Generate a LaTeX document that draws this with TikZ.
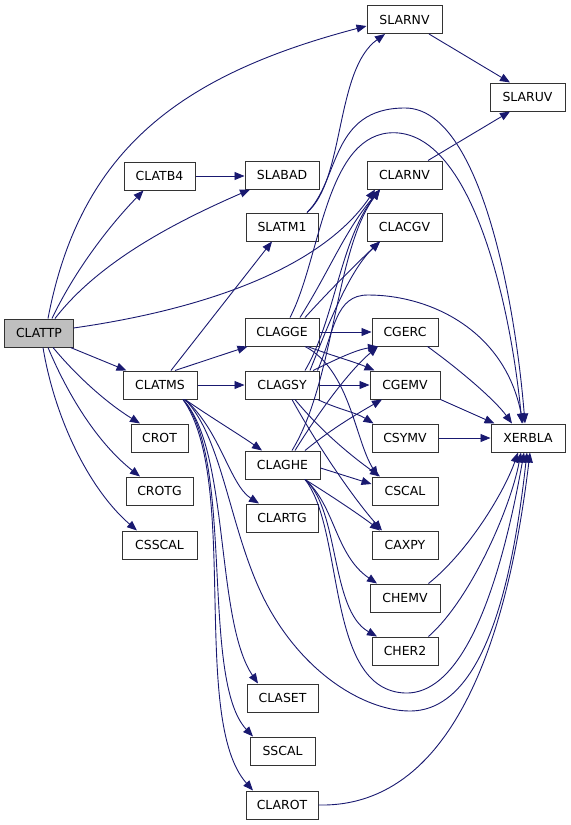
\documentclass[tikz,border=0pt]{standalone}
\usepackage{fontspec}
\setmainfont{DejaVu Sans}
\usetikzlibrary{arrows.meta}
\definecolor{edgecol}{RGB}{25,25,112}
\definecolor{rootfill}{RGB}{191,191,191}
\begin{document}
\begin{tikzpicture}[x=1bp,y=-1bp,
  box/.style={draw=black!80, line width=1bp, minimum height=28bp, inner sep=0pt, fill=white,
    font=\fontsize{12.5}{14}\selectfont},
  call/.style={draw=edgecol, line width=0.9bp, -{Triangle[length=10bp,width=8bp]}, fill=none}]
\useasboundingbox (0,0) rectangle (571,825);
\node[box, minimum width=68bp, fill=rootfill] (clattp) at (39,333) {CLATTP};
\node[box, minimum width=71bp] (clatb4) at (159.5,176) {CLATB4};
\node[box, minimum width=74bp] (slabad) at (282,175) {SLABAD};
\node[box, minimum width=72bp] (slatm1) at (282,227) {SLATM1};
\node[box, minimum width=75bp] (slarnv) at (404.5,19.5) {SLARNV};
\node[box, minimum width=75bp] (slaruv) at (527.5,97) {SLARUV};
\node[box, minimum width=75bp] (clarnv) at (404.5,175) {CLARNV};
\node[box, minimum width=75bp] (clacgv) at (404.5,227) {CLACGV};
\node[box, minimum width=74bp] (clagge) at (282,332) {CLAGGE};
\node[box, minimum width=74bp] (clatms) at (160,385) {CLATMS};
\node[box, minimum width=74bp] (clagsy) at (282,385) {CLAGSY};
\node[box, minimum width=66bp] (cgerc) at (405,332) {CGERC};
\node[box, minimum width=70bp] (cgemv) at (405,385) {CGEMV};
\node[box, minimum width=66bp] (csymv) at (405,438) {CSYMV};
\node[box, minimum width=74bp] (xerbla) at (528,438) {XERBLA};
\node[box, minimum width=57bp] (crot) at (159.5,438) {CROT};
\node[box, minimum width=75bp] (claghe) at (282.5,465) {CLAGHE};
\node[box, minimum width=66bp] (cscal) at (405,491) {CSCAL};
\node[box, minimum width=67bp] (crotg) at (159.5,491) {CROTG};
\node[box, minimum width=72bp] (clartg) at (282,518) {CLARTG};
\node[box, minimum width=66bp] (caxpy) at (405,545) {CAXPY};
\node[box, minimum width=75bp] (csscal) at (159.5,545) {CSSCAL};
\node[box, minimum width=70bp] (chemv) at (405,598) {CHEMV};
\node[box, minimum width=66bp] (cher2) at (405,651) {CHER2};
\node[box, minimum width=71bp] (claset) at (282.5,698) {CLASET};
\node[box, minimum width=65bp] (sscal) at (282.5,751) {SSCAL};
\node[box, minimum width=72bp] (clarot) at (282,805) {CLAROT};

% CLATTP calls
\draw[call] ([xshift=9bp]clattp.north) .. controls (80,150) and (180,75) .. ([yshift=-6.5bp]slarnv.west);
\draw[call] ([xshift=13bp]clattp.north) .. controls (75,270) and (110,225) .. ([xshift=-16bp]clatb4.south);
\draw[call] ([xshift=16bp]clattp.north) .. controls (100,260) and (180,220) .. ([xshift=-32bp]slabad.south);
\draw[call] ([yshift=5bp]clattp.east) .. controls (200,310) and (320,270) .. ([xshift=-29.5bp]clarnv.south);
\draw[call] ([xshift=-3bp]clattp.south east) -- ([xshift=4bp]clatms.north west);
\draw[call] ([xshift=14bp]clattp.south) .. controls (80,380) and (110,405) .. ([xshift=-19.5bp]crot.north);
\draw[call] ([xshift=9bp]clattp.south) .. controls (70,400) and (100,445) .. ([xshift=-19.5bp]crotg.north);
\draw[call] ([xshift=4bp]clattp.south) .. controls (55,420) and (90,490) .. ([xshift=-22.5bp]csscal.north);
\draw[call] (clatb4.east) -- (clatb4.east -| slabad.west);

% SLARNV / CLARNV
\draw[call] ([xshift=24.5bp]slarnv.south) -- ([xshift=-17.5bp]slaruv.north);
\draw[call] ([xshift=23.5bp]clarnv.north) -- ([xshift=-17.5bp]slaruv.south);

% SLATM1
\draw[call] ([xshift=25bp]slatm1.north) .. controls (345,180) and (335,70) .. ([xshift=-19.5bp]slarnv.south);
\draw[call] ([xshift=25bp]slatm1.north) .. controls (340,180) and (330,108) .. (405,108)
  .. controls (480,108) and (515,300) .. ([xshift=-3bp]xerbla.north);

% CLAGGE
\draw[call] ([xshift=8bp]clagge.north) .. controls (320,260) and (325,140) .. (388,133)
  .. controls (470,125) and (510,300) .. ([xshift=-6bp]xerbla.north);
\draw[call] ([xshift=18bp]clagge.north) .. controls (330,270) and (345,230) .. ([xshift=-24.5bp]clarnv.south);
\draw[call] ([xshift=23bp]clagge.north) .. controls (330,290) and (355,265) .. ([xshift=-24.5bp]clacgv.south);
\draw[call] (clagge.east) -- (clagge.east -| cgerc.west);
\draw[call] ([xshift=-12bp]clagge.south east) .. controls (330,355) and (355,362) .. ([xshift=5bp]cgemv.north west);
\draw[call] ([xshift=23bp]clagge.south) .. controls (350,370) and (355,440) .. ([xshift=-27bp]cscal.north);

% CLAGSY
\draw[call] ([xshift=23bp]clagsy.north) .. controls (335,320) and (340,240) .. ([xshift=-24.5bp]clarnv.south);
\draw[call] ([xshift=28bp]clagsy.north) .. controls (330,320) and (350,270) .. ([xshift=-24.5bp]clacgv.south);
\draw[call] ([xshift=31bp]clagsy.north) .. controls (335,360) and (355,350) .. ([xshift=-27bp]cgerc.south);
\draw[call] (clagsy.east) -- (clagsy.east -| cgemv.west);
\draw[call] ([xshift=-2bp]clagsy.south east) .. controls (340,410) and (355,412) .. ([xshift=2bp]csymv.north west);
\draw[call] ([xshift=13bp]clagsy.south) .. controls (320,430) and (350,455) .. ([xshift=-25bp]cscal.north);
\draw[call] ([xshift=10bp]clagsy.south) .. controls (320,450) and (355,500) .. ([xshift=-23bp]caxpy.north);
\draw[call] ([xshift=-2bp]clagsy.north east) .. controls (335,330) and (335,295) .. (368,295)
  .. controls (430,295) and (505,330) .. ([xshift=-5bp]xerbla.north);

% CLAGHE
\draw[call] ([xshift=9.5bp]claghe.north) .. controls (335,380) and (335,250) .. ([xshift=-24.5bp]clarnv.south);
\draw[call] ([xshift=12.5bp]claghe.north) .. controls (320,410) and (350,370) .. ([xshift=-27bp]cgerc.south);
\draw[call] ([xshift=22.5bp]claghe.north) .. controls (330,430) and (355,415) .. ([xshift=-23bp]cgemv.south);
\draw[call] ([yshift=-3bp]claghe.east) -- ([yshift=7bp]cscal.west);
\draw[call] ([xshift=22.5bp]claghe.south) .. controls (330,495) and (360,515) .. ([xshift=-25bp]caxpy.north);
\draw[call] ([xshift=22.5bp]claghe.south) .. controls (335,505) and (335,555) .. ([xshift=-28bp]chemv.north);
\draw[call] ([xshift=22.5bp]claghe.south) .. controls (340,510) and (330,610) .. ([xshift=-28bp]cher2.north);
\draw[call] ([xshift=22.5bp]claghe.south) .. controls (345,530) and (325,690) .. (405,693)
  .. controls (470,695) and (505,560) .. ([xshift=-4bp]xerbla.south);

% CLATMS
\draw[call] ([xshift=15bp]clatms.north) -- ([xshift=3bp]clagge.south west);
\draw[call] (clatms.east) -- (clatms.east -| clagsy.west);
\draw[call] ([xshift=11bp]clatms.north) -- ([xshift=-10bp]slatm1.south);
\draw[call] ([xshift=25bp]clatms.south) .. controls (215,420) and (240,435) .. ([xshift=-20.5bp]claghe.north);
\draw[call] ([xshift=25bp]clatms.south) .. controls (220,430) and (230,485) .. ([xshift=-23bp]clartg.north);
\draw[call] ([xshift=23bp]clatms.south) .. controls (230,450) and (215,620) .. ([xshift=-24.5bp]claset.north);
\draw[call] ([xshift=23bp]clatms.south) .. controls (235,460) and (200,680) .. ([xshift=-29.5bp]sscal.north);
\draw[call] ([xshift=23bp]clatms.south) .. controls (240,480) and (190,720) .. ([xshift=-29bp]clarot.north);
\draw[call] ([xshift=25bp]clatms.south) .. controls (225,440) and (230,540) .. (270,610)
  .. controls (310,680) and (370,711) .. (410,711)
  .. controls (490,711) and (515,560) .. ([xshift=-1bp]xerbla.south);

% CLAROT
\draw[call] (clarot.east) .. controls (460,808) and (510,620) .. ([xshift=2bp]xerbla.south);

% BLAS to XERBLA
\draw[call] ([xshift=-11bp]cgerc.south east) .. controls (460,370) and (495,400) .. ([xshift=-16bp]xerbla.north);
\draw[call] (cgemv.south east) -- ([xshift=4bp]xerbla.north west);
\draw[call] (csymv.east) -- (csymv.east -| xerbla.west);
\draw[call] ([xshift=-12bp]chemv.north east) .. controls (470,550) and (505,490) .. ([xshift=-10bp]xerbla.south);
\draw[call] ([xshift=-10bp]cher2.north east) .. controls (470,600) and (510,510) .. ([xshift=-7bp]xerbla.south);
\end{tikzpicture}
\end{document}
